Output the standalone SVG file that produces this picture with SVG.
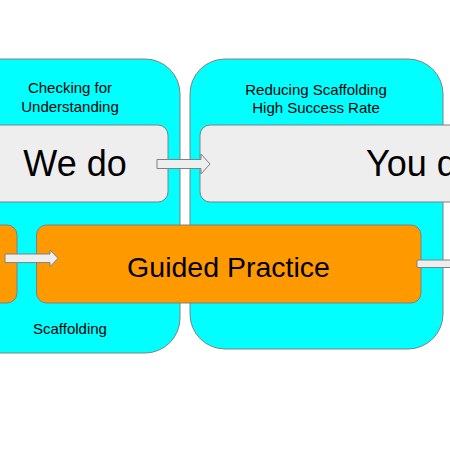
<svg xmlns="http://www.w3.org/2000/svg" width="450" height="450" viewBox="0 0 450 450">
<style>
.panel{fill:#00FFFF;stroke:#808080;stroke-width:1}
.gray{fill:#EEEEEE;stroke:#808080;stroke-width:1}
.orange{fill:#FF9900;stroke:#808080;stroke-width:1}
.arrow{fill:#EEEEEE;stroke:#808080;stroke-width:1}
text{font-family:"Liberation Sans",Arial,sans-serif;fill:#000}
.small{font-size:15px;text-anchor:middle}
</style>
<rect width="450" height="450" fill="#FFFFFF"/>
<g id="panel-left">
<rect class="panel" x="-100" y="59" width="280" height="294" rx="35" ry="35"/>
<text class="small" x="70" y="93">Checking for</text>
<text class="small" x="70" y="112">Understanding</text>
<text class="small" x="70" y="334">Scaffolding</text>
</g>
<g id="panel-right">
<rect class="panel" x="190" y="59" width="253" height="290" rx="35" ry="35"/>
<text class="small" x="316" y="95">Reducing Scaffolding</text>
<text class="small" x="316" y="113">High Success Rate</text>
</g>
<g id="we-do">
<rect class="gray" x="-100" y="125" width="268" height="77" rx="10" ry="10"/>
<text x="75" y="176" font-size="36" text-anchor="middle">We do</text>
</g>
<g id="you-do">
<rect class="gray" x="200" y="125" width="300" height="77" rx="10" ry="10"/>
<text x="366" y="176" font-size="36">You do</text>
</g>
<g id="left-orange">
<rect class="orange" x="-100" y="225" width="117" height="78" rx="10" ry="10"/>
</g>
<g id="guided-practice">
<rect class="orange" x="36.5" y="225" width="384.5" height="78" rx="10" ry="10"/>
<text x="228.5" y="277" font-size="28.5" text-anchor="middle">Guided Practice</text>
</g>
<g id="connectors">
<polygon class="arrow" points="157,159.5 201,159.5 201,154 210,164 201,174 201,168.5 157,168.5"/>
<polygon class="arrow" points="5,254 50,254 50,250 58,258.3 50,266.7 50,262.6 5,262.6"/>
<polygon class="arrow" points="417,260 470,260 470,267.5 417,267.5"/>
</g>
</svg>
